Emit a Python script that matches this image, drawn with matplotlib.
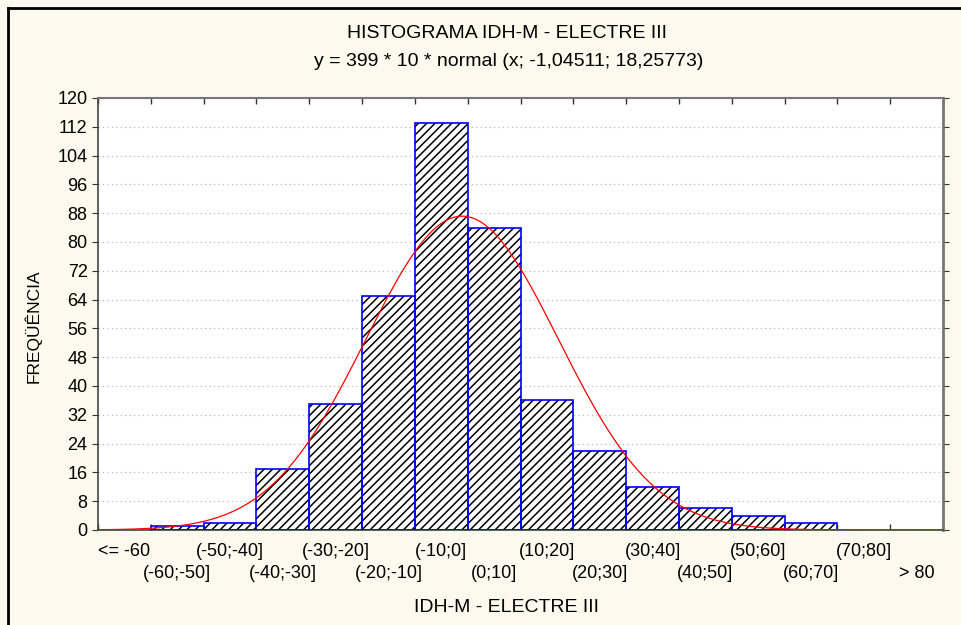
import numpy as np
import matplotlib.pyplot as plt
from matplotlib.lines import Line2D

plt.rcParams['font.family'] = ['Liberation Sans', 'DejaVu Sans']
plt.rcParams['hatch.linewidth'] = 1.1

# data
bin_labels = ['<= -60', '(-60;-50]', '(-50;-40]', '(-40;-30]', '(-30;-20]', '(-20;-10]',
              '(-10;0]', '(0;10]', '(10;20]', '(20;30]', '(30;40]', '(40;50]',
              '(50;60]', '(60;70]', '(70;80]', '> 80']
bin_left = [-70, -60, -50, -40, -30, -20, -10, 0, 10, 20, 30, 40, 50, 60, 70, 80]
counts = [0, 1, 2, 17, 35, 65, 113, 84, 36, 22, 12, 6, 4, 2, 0, 0]
bin_width = 10

# fitted normal: y = 399 * 10 * normal(x; mu; sigma)
n_obs = 399
mu = -1.04511
sigma = 18.25773

bg = '#fdf9ee'
fig = plt.figure(figsize=(9.61, 6.25), dpi=100, facecolor=bg)
ax = fig.add_axes([98 / 961, 1 - 530 / 625, (943 - 98) / 961, (530 - 98) / 625])
ax.set_facecolor('white')

left = np.array(bin_left, dtype=float)
h = np.array(counts, dtype=float)
nz = h > 0
ax.bar(left[nz], h[nz], width=bin_width, align='edge', color='white',
       edgecolor='black', linewidth=0, hatch='////', zorder=2)
ax.bar(left[nz], h[nz], width=bin_width, align='edge', fill=False,
       edgecolor='#0000ff', linewidth=1.2, zorder=3)

xs = np.linspace(-70, 90, 500)
ys = n_obs * bin_width * np.exp(-0.5 * ((xs - mu) / sigma) ** 2) / (sigma * np.sqrt(2 * np.pi))
ax.plot(xs, ys, color='#ff0000', linewidth=0.9, zorder=4)

ax.set_xlim(-70, 90)
ax.set_ylim(0, 120)
ax.set_yticks(np.arange(0, 121, 8))
ax.yaxis.grid(True, linestyle=(0, (1, 3)), color='#b0b0b0', linewidth=0.8, zorder=0)
ax.set_axisbelow(True)

# bin edges carry the tick marks, bin centres carry the labels (two staggered rows)
edges = left.tolist() + [90]
centers = left + bin_width / 2
ax.set_xticks(edges)
ax.set_xticklabels([])
ax.set_xticks(centers[0::2], minor=True)
ax.set_xticklabels(bin_labels[0::2], minor=True, fontsize=13)
ax.tick_params(axis='x', which='major', direction='in', length=4, top=True, width=1, color='#333333')
ax.tick_params(axis='x', which='minor', length=0, pad=9)

sec = ax.secondary_xaxis('bottom')
sec.set_xticks(centers[1::2])
sec.set_xticklabels(bin_labels[1::2], fontsize=13)
sec.tick_params(length=0, pad=25)
sec.spines['bottom'].set_visible(False)

ax.tick_params(axis='y', which='major', direction='out', length=4, labelsize=13, color='#333333')
ax.tick_params(axis='y', which='major', right=True)

for side in ['left', 'bottom']:
    ax.spines[side].set_color('#444444')
    ax.spines[side].set_linewidth(1.2)
ax.spines['top'].set_color('#777777')
ax.spines['top'].set_linewidth(1.5)
ax.spines['right'].set_color('#777777')
ax.spines['right'].set_linewidth(2)

fig.text(506 / 961, 1 - 607 / 625, 'IDH-M - ELECTRE III', ha='center', va='center', fontsize=14)
ax.set_ylabel('FREQÜÊNCIA', fontsize=12.5)
ax.yaxis.set_label_coords((42 - 98) / 845, (530 - 326) / 432)

fig.text(507 / 961, 1 - 34 / 625, 'HISTOGRAMA IDH-M - ELECTRE III', ha='center', va='center', fontsize=14)
fig.text(509 / 961, 1 - 62 / 625, 'y = 399 * 10 * normal (x; -1,04511; 18,25773)', ha='center', va='center', fontsize=14)

# outer frame (left and top)
fig.add_artist(Line2D([7.5 / 961, 7.5 / 961], [0, 1 - 7.5 / 625], color='black', linewidth=2, transform=fig.transFigure))
fig.add_artist(Line2D([7.5 / 961, 1], [1 - 7.5 / 625, 1 - 7.5 / 625], color='black', linewidth=2, transform=fig.transFigure))

fig.savefig('out.png', dpi=100, facecolor=bg)
